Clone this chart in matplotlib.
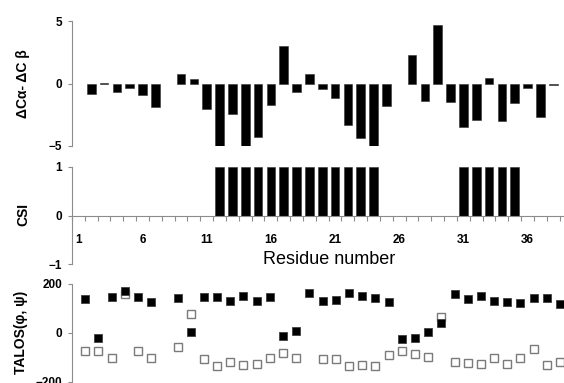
#!/usr/bin/env python3
"""Three stacked panels: delta C-alpha/C-beta shifts, CSI and TALOS angles per residue."""

import matplotlib
matplotlib.use("Agg")
import matplotlib.pyplot as plt
import numpy as np

plt.rcParams["font.family"] = ["Liberation Sans", "DejaVu Sans"]

# Residues 1..38
residues = np.arange(1, 39)
delta_ca_cb = [
    np.nan, -0.8, 0.08, -0.7, -0.35, -0.9, -1.9, np.nan, 0.75, 0.4,
    -2.0, -5.0, -2.45, -5.0, -4.25, -1.75, 3.0, -0.7, 0.75, -0.45,
    -1.15, -3.3, -4.35, -5.0, -1.8, np.nan, 2.3, -1.4, 4.7, -1.45,
    -3.45, -2.95, 0.45, -3.0, -1.55, -0.35, -2.7, -0.08,
]
csi = [
    0, 0, 0, 0, 0, 0, 0, 0, 0, 0,
    0, 1, 1, 1, 1, 1, 1, 1, 1, 1,
    1, 1, 1, 1, 0, 0, 0, 0, 0, 0,
    1, 1, 1, 1, 1, 0, 0, 0,
]
tick_residues = [1, 6, 11, 16, 21, 26, 31, 36]

# TALOS predictions, residues 2..38 (residue 8 missing)
talos_res = np.arange(2, 39)
talos_filled = [
    138, -23, 145, 171, 148, 127, np.nan, 141, 4, 145,
    145, 130, 151, 130, 145, -12, 7, 164, 130, 133,
    162, 151, 142, 125, -26, -21, 4, 41, 159, 140,
    151, 131, 126, 122, 144, 144, 118,
]
talos_open = [
    -74, -75, -103, 159, -73, -101, np.nan, -56, 79, -108,
    -137, -119, -131, -126, -105, -82, -102, np.nan, -108, -108,
    -137, -130, -136, -92, -73, -88, -99, 66, -119, -122,
    -127, -105, -126, -103, -68, -133, -120,
]

AXIS_GRAY = "#8c8c8c"
TICK_FONT = dict(fontsize=8.5, fontweight="bold")

fig = plt.figure(figsize=(5.64, 3.83), dpi=100)
W, H = 564.0, 383.0


def add_axes(left_px, top_px, bottom_px, right_px=W):
    return fig.add_axes([left_px / W, 1 - bottom_px / H,
                         (right_px - left_px) / W, (bottom_px - top_px) / H])


def style_left(ax):
    for side in ("top", "right"):
        ax.spines[side].set_visible(False)
    ax.spines["left"].set_color(AXIS_GRAY)
    ax.tick_params(axis="y", direction="out", length=3, width=0.8,
                   color=AXIS_GRAY, pad=4)
    for lbl in ax.get_yticklabels():
        lbl.set_fontsize(TICK_FONT["fontsize"])
        lbl.set_fontweight(TICK_FONT["fontweight"])
    ax.patch.set_alpha(0)


# --- top panel: delta Ca - delta Cb ---
ax1 = add_axes(72, 21, 146)
ax1.bar(residues, delta_ca_cb, width=0.67, color="black", edgecolor="#333333",
        linewidth=0.4)
ax1.set_xlim(0.5, 38.84)
ax1.set_ylim(-5, 5)
ax1.set_yticks([-5, 0, 5])
ax1.set_xticks([])
ax1.spines["bottom"].set_visible(False)
style_left(ax1)

# --- middle panel: CSI ---
ax2 = add_axes(72, 166.7, 264.3)
ax2.bar(residues, csi, width=0.67, color="black", edgecolor="#333333",
        linewidth=0.4)
ax2.set_xlim(0.5, 38.84)
ax2.set_ylim(-1, 1)
ax2.set_yticks([-1, 0, 1])
ax2.spines["bottom"].set_position(("data", 0))
ax2.spines["bottom"].set_color(AXIS_GRAY)
ax2.set_xticks(tick_residues)
ax2.set_xticklabels([str(r) for r in tick_residues], **TICK_FONT)
ax2.set_xticks(np.arange(0.5, 39.5, 1.0), minor=True)
ax2.tick_params(axis="x", which="major", length=0, pad=13)
ax2.tick_params(axis="x", which="minor", direction="out", length=3.5,
                width=0.8, color=AXIS_GRAY)
style_left(ax2)

fig.text(329 / W, 1 - 264.3 / H, "Residue number", fontsize=13,
         ha="center", va="baseline")

# --- bottom panel: TALOS phi/psi ---
ax3 = add_axes(72, 284, 381.7)
ax3.plot(talos_res, talos_open, linestyle="none", marker="s", markersize=5.4,
         markerfacecolor="white", markeredgecolor="#7a7a7a",
         markeredgewidth=1.0, clip_on=False)
ax3.plot(talos_res, talos_filled, linestyle="none", marker="s", markersize=5.6,
         markerfacecolor="black", markeredgecolor="#404040",
         markeredgewidth=0.6, clip_on=False)
ax3.set_xlim(1.0, 38.3)
ax3.set_ylim(-200, 200)
ax3.set_yticks([-200, 0, 200])
ax3.set_xticks([])
ax3.spines["bottom"].set_visible(False)
style_left(ax3)

# y-axis titles
label_font = dict(fontsize=10, fontweight="bold", rotation=90,
                  ha="center", va="center")
fig.text(23 / W, 1 - 84 / H, "ΔCα- ΔC β", **label_font)
fig.text(23 / W, 1 - 215 / H, "CSI", **label_font)
fig.text(21 / W, 1 - 332 / H, "TALOS(φ, ψ)", **label_font)

fig.savefig("out.png", dpi=100)
